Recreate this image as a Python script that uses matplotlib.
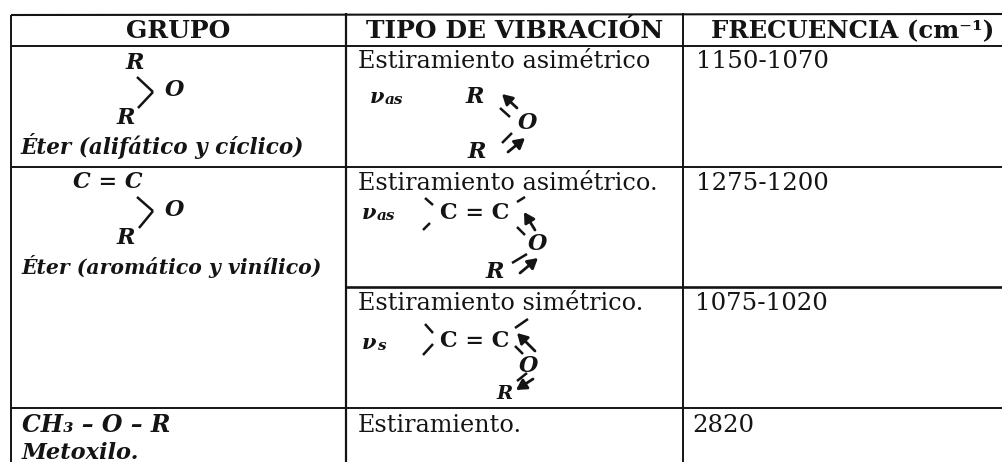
"""Table of ether IR vibrations, redrawn from a scanned page."""

import matplotlib
matplotlib.use("Agg")
import matplotlib.pyplot as plt

W, H = 1003, 462
INK = "#141414"

headers = ["GRUPO", "TIPO DE VIBRACIÓN", "FRECUENCIA (cm⁻¹)"]
group_names = ["Éter (alifático y cíclico)", "Éter (aromático y vinílico)"]
methoxy = ["CH₃ – O – R", "Metoxilo."]
vibrations = ["Estiramiento asimétrico", "Estiramiento asimétrico.", "Estiramiento simétrico.", "Estiramiento."]
frequencies = ["1150-1070", "1275-1200", "1075-1020", "2820"]

plt.rcParams["font.family"] = ["DejaVu Serif", "DejaVu Sans"]

fig = plt.figure(figsize=(W / 100, H / 100), dpi=100)
ax = fig.add_axes([0, 0, 1, 1])
ax.set_xlim(0, W)
ax.set_ylim(H, 0)
ax.axis("off")


def seg(x0, y0, x1, y1, lw=1.8):
    ax.plot([x0, x1], [y0, y1], color=INK, lw=lw, solid_capstyle="butt")


def arrow(x0, y0, x1, y1):
    ax.annotate("", xy=(x1, y1), xytext=(x0, y0),
                arrowprops=dict(arrowstyle="-|>,head_width=0.34,head_length=0.6", color=INK, lw=2.0,
                                shrinkA=0, shrinkB=0))


def sym(x, y, s, size=16):
    ax.text(x, y, s, fontsize=size, fontweight="bold", fontstyle="italic", color=INK, ha="center", va="center")


def plain(x, y, s, size=17.2):
    ax.text(x, y + 1, s, fontsize=size, color=INK, ha="left", va="center")


def label(x, y, s, size):
    ax.text(x, y, s, fontsize=size, fontweight="bold", fontstyle="italic", color=INK, ha="left", va="center")


def nu(x, y, sub):
    ax.text(x, y, "ν", fontsize=15, fontweight="bold", fontstyle="italic", color=INK, ha="left", va="center")
    ax.text(x + 15, y + 3, sub, fontsize=11, fontweight="bold", fontstyle="italic", color=INK, ha="left", va="center")


def cc(x, y):
    ax.text(x, y, "C = C", fontsize=16, fontweight="bold", color=INK, ha="left", va="center")


# grid
seg(11, 15, W, 14, 1.5)
seg(11, 15, 11, H, 1.4)
seg(346, 13, 346, H, 1.6)
seg(683, 13, 683, H, 1.4)
for yy in [46, 167, 408]:
    seg(11, yy, W, yy, 1.4)
seg(346, 287, W, 287, 1.9)
seg(0, H - 0.5, W, H - 0.5, 0.6)

# header row
for xx, s, size in zip([178, 515, 852.5], headers, [18, 18, 17.6]):
    ax.text(xx, 31, s, fontsize=size, fontweight="bold", color=INK, ha="center", va="center")

# group column
sym(135, 63, "R")
seg(137, 77, 153, 92)
seg(153, 92, 138, 108)
sym(175, 90, "O")
sym(126, 118, "R")
label(21, 146, group_names[0], 15.5)

ax.text(108, 182, "C = C", fontsize=16, fontweight="bold", fontstyle="italic", color=INK, ha="center", va="center")
seg(137, 197, 153, 211)
seg(153, 211, 139, 228)
sym(175, 210, "O")
sym(126, 238, "R")
label(21, 266, group_names[1], 14.7)

label(22, 425, methoxy[0], 17)
label(22, 453, methoxy[1], 16.2)

# vibration column
for yy, s in zip([61, 182, 303, 425], vibrations):
    plain(358, yy, s)

nu(370, 97, "as")
sym(475, 97, "R")
arrow(517, 108, 502, 94)
seg(500, 108, 510, 117)
sym(528, 123, "O")
seg(502, 143, 512, 133)
arrow(508, 152, 525, 138)
sym(477, 152, "R")

nu(362, 213, "as")
seg(425, 198, 433, 205)
seg(423, 230, 430, 223)
cc(440, 213)
seg(517, 202, 525, 197)
arrow(535, 230, 524, 212)
seg(517, 227, 525, 235)
sym(538, 244, "O")
seg(512, 263, 527, 254)
arrow(520, 273, 538, 258)
sym(495, 272, "R")

nu(362, 343, "s")
seg(425, 324, 433, 333)
seg(423, 355, 433, 344)
cc(440, 341)
seg(515, 328, 528, 319)
arrow(535, 351, 517, 333)
seg(515, 346, 523, 354)
sym(529, 366, "O")
seg(517, 381, 527, 373)
arrow(533, 379, 516, 390)
sym(505, 394, "R", 14)

# frequency column
for xx, yy, s in zip([696, 696, 695, 692], [61, 182, 303, 425], frequencies):
    plain(xx, yy, s, 17.6)

fig.savefig("out.png", dpi=100)
